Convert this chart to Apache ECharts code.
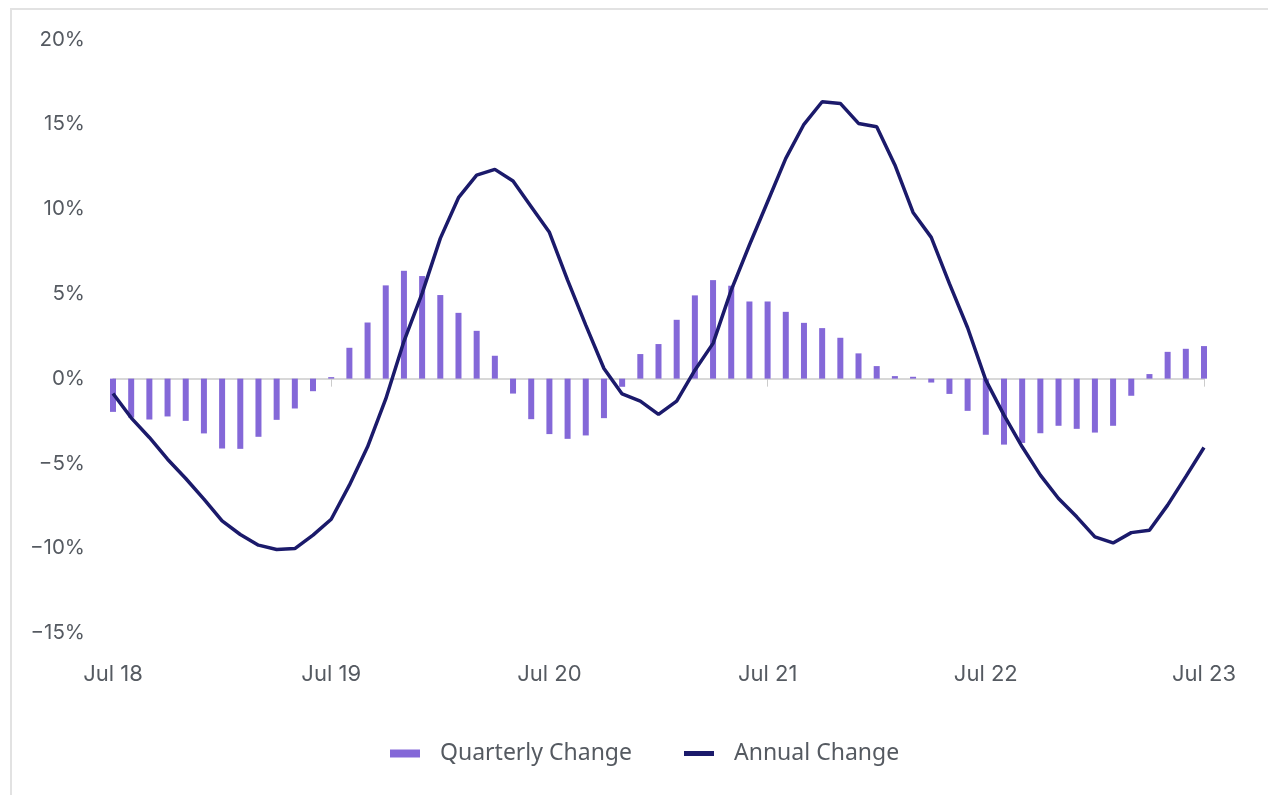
<!DOCTYPE html>
<html>
<head>
<meta charset="utf-8">
<script src="https://cdn.jsdelivr.net/npm/echarts@6/dist/echarts.min.js"></script>
<style>
html,body{margin:0;padding:0;background:#fff;}
#chart{width:1268px;height:795px;}
</style>
</head>
<body>
<div id="chart"></div>
<script>
const categories = [];
const monthNames = ["Jul","Aug","Sep","Oct","Nov","Dec","Jan","Feb","Mar","Apr","May","Jun"];
for (let i = 0; i < 61; i++) {
  const m = monthNames[i % 12];
  const yr = 18 + Math.floor((i + 6) / 12);
  categories.push(m + " " + yr);
}

const quarterlyChange = [
  -1.96, -2.3, -2.41, -2.23, -2.49, -3.23, -4.12, -4.14, -3.43, -2.43, -1.76, -0.74,
  0.09, 1.82, 3.31, 5.50, 6.36, 6.05, 4.93, 3.88, 2.82, 1.35, -0.88, -2.39,
  -3.27, -3.55, -3.35, -2.33, -0.48, 1.45, 2.04, 3.47, 4.91, 5.81, 5.48, 4.55,
  4.55, 3.94, 3.29, 2.98, 2.41, 1.49, 0.74, 0.15, 0.11, -0.23, -0.9, -1.9,
  -3.31, -3.89, -3.79, -3.22, -2.78, -2.96, -3.18, -2.78, -1.01, 0.27, 1.58, 1.76,
  1.92
];

const annualChange = [
  -0.88, -2.31, -3.47, -4.75, -5.89, -7.11, -8.39, -9.19, -9.82, -10.08, -10.02, -9.23,
  -8.29, -6.28, -4.02, -1.2, 2.2, 5.03, 8.27, 10.67, 12.0, 12.34, 11.65, 10.14,
  8.63, 5.81, 3.16, 0.6, -0.9, -1.33, -2.11, -1.33, 0.5, 2.08, 5.22, 7.88,
  10.43, 12.99, 15.0, 16.33, 16.23, 15.05, 14.86, 12.6, 9.8, 8.33, 5.6, 3.0,
  -0.09, -2.15, -4.02, -5.69, -7.07, -8.15, -9.33, -9.69, -9.08, -8.94, -7.46, -5.78,
  -4.06
];

const yTicks = { min: -15, max: 20, interval: 5 };

const chart = echarts.init(document.getElementById('chart'), null, { renderer: 'canvas' });
const labelColor = '#555a61';

chart.setOption({
  animation: false,
  backgroundColor: '#ffffff',
  graphic: [{
    type: 'rect',
    shape: { x: 11, y: 9, width: 1400, height: 900 },
    style: { fill: 'none', stroke: '#e2e2e2', lineWidth: 2 },
    silent: true
  }],
  grid: { left: 113, right: 64, top: 39.5, bottom: 162, containLabel: false },
  legend: {
    bottom: 30,
    left: 390,
    padding: 0,
    itemWidth: 30,
    itemHeight: 8,
    itemGap: 52,
    textStyle: { fontFamily: 'Noto Sans', fontSize: 23, color: labelColor, padding: [0, 0, 0, 15] },
    data: [
      { name: 'Quarterly Change', icon: 'rect' },
      { name: 'Annual Change', icon: 'path://M0,0H30V5H0Z' }
    ]
  },
  xAxis: [
    {
      type: 'category',
      data: categories,
      boundaryGap: false,
      position: 'bottom',
      axisLine: { show: false, onZero: false },
      axisTick: { show: false },
      axisLabel: {
        interval: 11,
        margin: 30,
        fontFamily: 'Inter',
        fontSize: 22,
        color: labelColor
      },
      splitLine: { show: false }
    },
    {
      type: 'category',
      data: categories,
      boundaryGap: false,
      position: 'bottom',
      axisLine: { show: true, onZero: true, lineStyle: { color: '#cccccc', width: 1.5 } },
      axisTick: { show: true, interval: 11, length: 8, lineStyle: { color: '#cccccc', width: 1 } },
      axisLabel: { show: false },
      splitLine: { show: false }
    }
  ],
  yAxis: {
    type: 'value',
    min: yTicks.min,
    max: yTicks.max,
    interval: yTicks.interval,
    axisLine: { show: false },
    axisTick: { show: false },
    splitLine: { show: false },
    axisLabel: {
      margin: 28,
      fontFamily: 'Inter',
      fontSize: 20.5,
      color: labelColor,
      formatter: function (v) { return (v < 0 ? '\u2212' + Math.abs(v) : v) + '%'; }
    }
  },
  series: [
    {
      name: 'Quarterly Change',
      type: 'bar',
      xAxisIndex: 1,
      data: quarterlyChange,
      barWidth: 6,
      itemStyle: { color: '#8468d8' },
      z: 2
    },
    {
      name: 'Annual Change',
      type: 'line',
      xAxisIndex: 1,
      data: annualChange,
      symbol: 'none',
      lineStyle: { color: '#1b1a6b', width: 3.5 },
      itemStyle: { color: '#1b1a6b' },
      z: 3
    }
  ]
});
</script>
</body>
</html>
